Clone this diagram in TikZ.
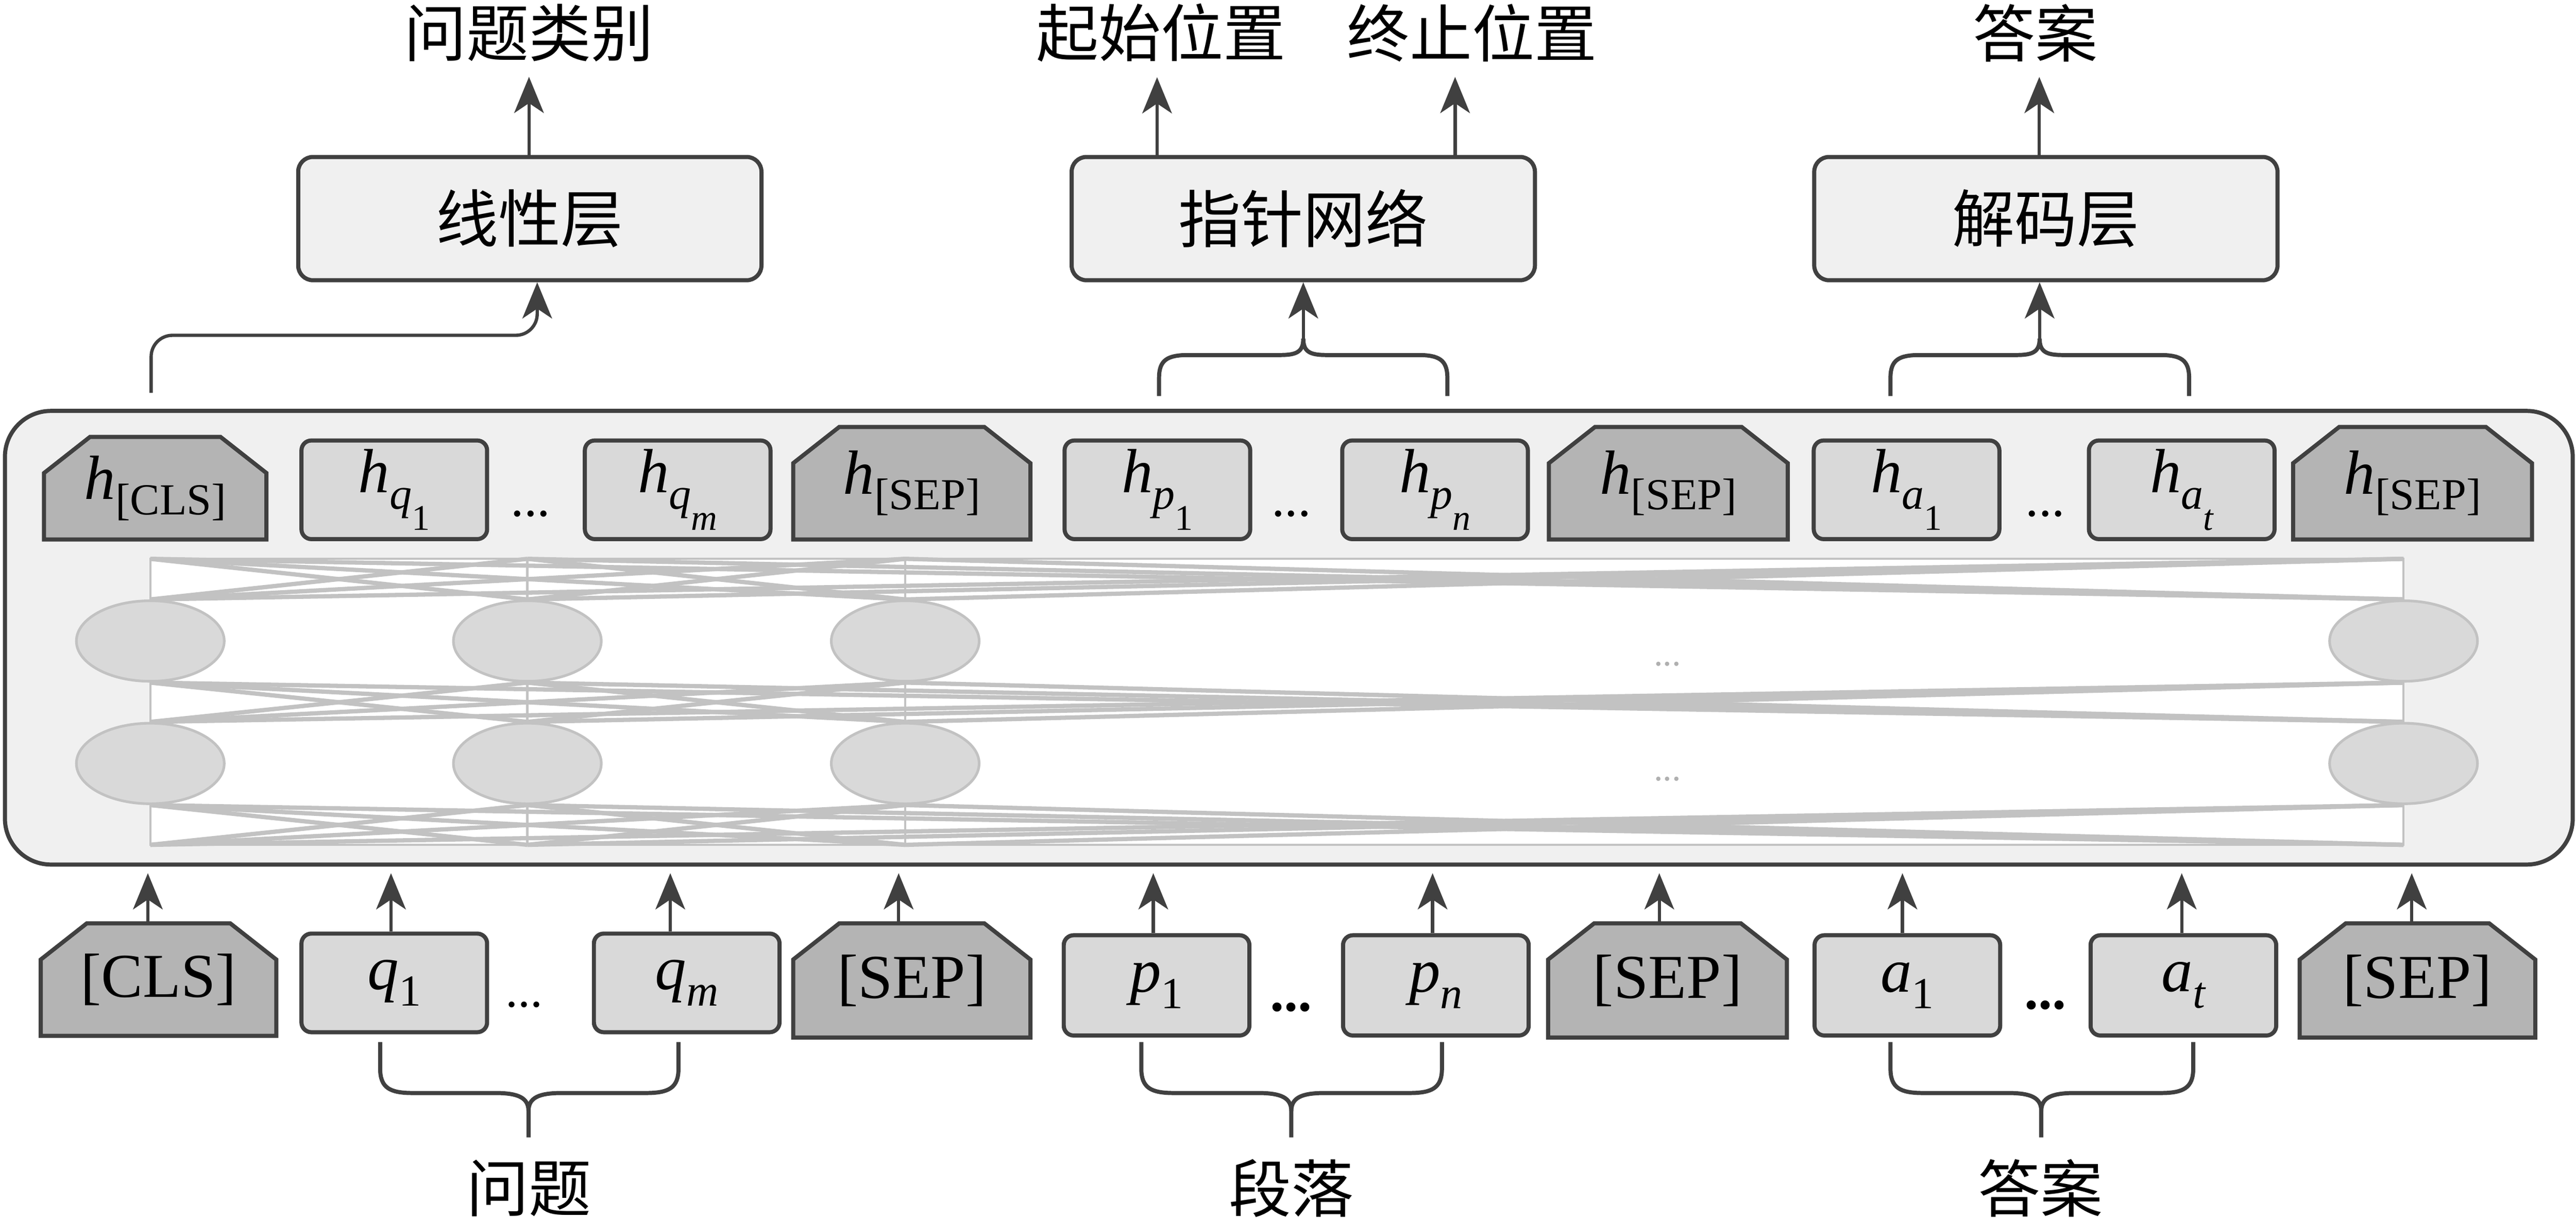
\documentclass[tikz,border=0pt]{standalone}
\usepackage{fontspec}
\setmainfont{Liberation Serif}
\newfontfamily\cjk{Noto Sans CJK SC}
\usetikzlibrary{shapes.geometric,arrows.meta}
\definecolor{dark}{HTML}{404040}
\definecolor{tokfill}{HTML}{D9D9D9}
\definecolor{sepfill}{HTML}{B4B4B4}
\definecolor{panel}{HTML}{F0F0F0}
\definecolor{netc}{HTML}{C2C2C2}
\definecolor{dotc}{HTML}{B0B0B0}
\pgfdeclarelayer{back}\pgfdeclarelayer{net}\pgfdeclarelayer{mid}
\pgfsetlayers{back,net,mid,main}
\newcommand\fbase{\fontsize{38}{40}\selectfont}
\newcommand\fsub{\fontsize{27}{28}\selectfont}
\newcommand\fssub{\fontsize{22}{23}\selectfont}
\newcommand\hv[2]{{\itshape h}\raisebox{-10pt}{\fsub\itshape #1\raisebox{-13pt}{\fssub\upshape #2}}}
\newcommand\hs[1]{{\itshape h}\raisebox{-9.5pt}{\fsub #1}}
\newcommand\tv[2]{{\itshape #1}\raisebox{-10pt}{\fsub #2}}
\newcommand\chamferbox[1]{\draw[chamf] (#1.south west) -- ([yshift=-22pt]#1.north west) -- ([xshift=28pt]#1.north west) -- ([xshift=-28pt]#1.north east) -- ([yshift=-22pt]#1.north east) -- (#1.south east) -- cycle;}
\newcommand\bracepath[3]{%
  \draw[brc] (#1,634) -- (#1,650) .. controls (#1,662) and (#1+6,665) .. (#1+20,665) -- (#3-20,665) .. controls (#3-6,665) and (#3,668) .. (#3,676) -- (#3,692);
  \draw[brc] (#2,634) -- (#2,650) .. controls (#2,662) and (#2-6,665) .. (#2-20,665) -- (#3+20,665) .. controls (#3+6,665) and (#3,668) .. (#3,676);}
\newcommand\forkpath[3]{%
  \draw[brc] (#1,241) -- (#1,230) .. controls (#1,219) and (#1+5,216) .. (#1+18,216) -- (#3-14,216) .. controls (#3-4,216) and (#3,214) .. (#3,206);
  \draw[brc] (#2,241) -- (#2,230) .. controls (#2,219) and (#2-5,216) .. (#2-18,216) -- (#3+14,216) .. controls (#3+4,216) and (#3,214) .. (#3,206);}
\tikzset{
  tok/.style={rectangle, rounded corners=6pt, draw=dark, line width=2.5pt, fill=tokfill, minimum width=113pt, minimum height=60pt, inner sep=0pt, font=\fbase},
  septxt/.style={rectangle, inner sep=0pt, font=\fbase},
  chamf/.style={draw=dark, line width=2.5pt, fill=sepfill, line join=miter},
  layerbox/.style={rectangle, rounded corners=9pt, draw=dark, line width=2.5pt, fill=panel, minimum width=282pt, minimum height=75pt, inner sep=0pt, font=\cjk\fontsize{38}{40}\selectfont},
  lbl/.style={inner sep=0pt, font=\cjk\fontsize{38}{40}\selectfont},
  arr/.style={draw=dark, line width=2pt, -{Stealth[length=22pt,width=18pt,inset=6pt]}},
  brc/.style={draw=dark, line width=2.5pt},
  net/.style={draw=netc, line width=2.6pt},
  neuron/.style={ellipse, fill=tokfill, draw=netc, line width=1.6pt, minimum width=90pt, minimum height=49pt, inner sep=0pt},
  dotsn/.style={anchor=base, inner sep=0pt, font=\fontsize{32}{32}\selectfont},
  gdots/.style={anchor=base, inner sep=0pt, text=dotc, font=\fontsize{22}{22}\selectfont},
  panelbox/.style={rectangle, draw=dark, line width=2.5pt, fill=panel, rounded corners=28pt, minimum width=1563pt, minimum height=276pt, inner sep=0pt}
}
\begin{document}
\begin{tikzpicture}[x=1pt,y=-1pt]
\useasboundingbox (0,0) rectangle (1568,741);
\begin{pgfonlayer}{back}
\fill[white] (0,0) rectangle (1568,741);
\node[panelbox] (enc) at (784.5,388) {};
\end{pgfonlayer}

% network inside encoder
\foreach \i/\x in {1/91.5,2/321,3/551,4/1463}{
  \node[neuron] (u\i) at (\x,390) {};
  \node[neuron] (l\i) at (\x,464.5) {};
  \coordinate (t\i) at (\x,340);
  \coordinate (b\i) at (\x,514);
}
\begin{pgfonlayer}{net}
\draw[fill=white, draw=netc, line width=1.4pt] (t1) rectangle (b4);
\foreach \i in {2,3} \draw[draw=netc, line width=1.4pt] (t\i) -- (b\i);
\foreach \i in {1,...,4}{\foreach \j in {1,...,4}{\ifnum\i=\j\relax\else
  \draw[net] (t\i) -- (u\j.north);
  \draw[net] (u\i.south) -- (l\j.north);
  \draw[net] (l\i.south) -- (b\j);
\fi}}
\end{pgfonlayer}
\node[gdots] (gd1) at (1015,405) {...};
\node[gdots] (gd2) at (1015,475) {...};

% hidden-state row
\node[septxt, minimum width=135pt, minimum height=62pt] (hcls) at (94.5,297) {\hs{[CLS]}};
\node[tok] (hq1) at (240,298) {\hv{q}{1}};
\node[dotsn] (hd1) at (323,314) {...};
\node[tok] (hqm) at (412.5,298) {\hv{q}{\itshape m}};
\node[septxt, minimum width=144pt, minimum height=68pt] (hsep1) at (555,294) {\hs{[SEP]}};
\node[tok] (hp1) at (704.5,298) {\hv{p}{1}};
\node[dotsn] (hd2) at (786,314) {...};
\node[tok] (hpn) at (873.5,298) {\hv{p}{\itshape n}};
\node[septxt, minimum width=145pt, minimum height=68pt] (hsep2) at (1015.5,294) {\hs{[SEP]}};
\node[tok] (ha1) at (1160.5,298) {\hv{a}{1}};
\node[dotsn] (hd3) at (1245,314) {...};
\node[tok] (hat) at (1328,298) {\hv{a}{\itshape t}};
\node[septxt, minimum width=145pt, minimum height=68pt] (hsep3) at (1468.5,294) {\hs{[SEP]}};

% input row
\node[septxt, minimum width=143pt, minimum height=68pt] (cls) at (96.5,596) {[CLS]};
\node[tok] (q1) at (240,598) {\tv{q}{1}};
\node[dotsn, font=\fontsize{30}{30}\selectfont] (bd1) at (319,612.7) {...};
\node[tok] (qm) at (418,598) {\tv{q}{\itshape m}};
\node[septxt, minimum width=144pt, minimum height=69pt] (sep1) at (555,596.5) {[SEP]};
\node[tok, minimum height=61pt] (p1) at (704,599.5) {\tv{p}{1}};
\node[dotsn, font=\fontsize{34}{34}\selectfont\bfseries] (bd2) at (786,615) {...};
\node[tok, minimum height=61pt] (pn) at (874,599.5) {\tv{p}{\itshape n}};
\node[septxt, minimum width=145pt, minimum height=69pt] (sep2) at (1015,596.5) {[SEP]};
\node[tok, minimum height=61pt] (a1) at (1161,599.5) {\tv{a}{1}};
\node[dotsn, font=\fontsize{34}{34}\selectfont\bfseries] (bd3) at (1245,614) {...};
\node[tok, minimum height=61pt] (xat) at (1329,599.5) {\tv{a}{\itshape t}};
\node[septxt, minimum width=143pt, minimum height=69pt] (sep3) at (1471.5,596.5) {[SEP]};

\begin{pgfonlayer}{mid}
\foreach \n in {hcls,hsep1,hsep2,hsep3,cls,sep1,sep2,sep3} {\chamferbox{\n}}
\end{pgfonlayer}

% input arrows
\foreach \n/\d in {cls/-6.5,q1/-2,qm/-10,sep1/-8,p1/-2,pn/-2,sep2/-5,a1/-3,xat/-1,sep3/-3.5}
  \draw[arr, shorten >=4pt] ([xshift=\d]\n.north) -- ([xshift=\d]\n.north |- enc.south);

% braces and bottom labels
\bracepath{231.4}{413}{321.7}
\bracepath{694.7}{877.7}{786}
\bracepath{1150.7}{1335}{1242.5}
\node[lbl] (bq) at (322,723) {问题};
\node[lbl] (bp) at (786,723) {段落};
\node[lbl] (ba) at (1242,723) {答案};

% task heads
\node[layerbox] (lin) at (322.5,133) {线性层};
\node[layerbox] (ptr) at (793.3,133) {指针网络};
\node[layerbox] (dec) at (1245.3,133) {解码层};

\coordinate (f1) at (92,239);
\coordinate (k1) at (327,204);
\draw[arr, rounded corners=13pt] (f1) |- (k1) -- (k1 |- lin.south);

\forkpath{705.5}{881}{793.3}
\coordinate (jp) at (793.3,206);
\draw[arr] (jp) -- (jp |- ptr.south);
\forkpath{1150.7}{1332.5}{1241.5}
\coordinate (jd) at (1241.5,206);
\draw[arr] (jd) -- (jd |- dec.south);

% outputs
\node[lbl] (o1) at (322,20) {问题类别};
\node[lbl] (o2) at (706.7,20) {起始位置};
\node[lbl] (o3) at (896,20) {终止位置};
\node[lbl] (o4) at (1239,20) {答案};
\draw[arr, shorten >=9pt] ([xshift=-0.5pt]lin.north) -- ([xshift=-0.5pt]lin.north |- o1.south);
\draw[arr, shorten >=9pt] ([xshift=-89pt]ptr.north) -- ([xshift=-89pt]ptr.north |- o2.south);
\draw[arr, shorten >=9pt] ([xshift=92.4pt]ptr.north) -- ([xshift=92.4pt]ptr.north |- o3.south);
\draw[arr, shorten >=9pt] ([xshift=-4pt]dec.north) -- ([xshift=-4pt]dec.north |- o4.south);
\end{tikzpicture}
\end{document}
